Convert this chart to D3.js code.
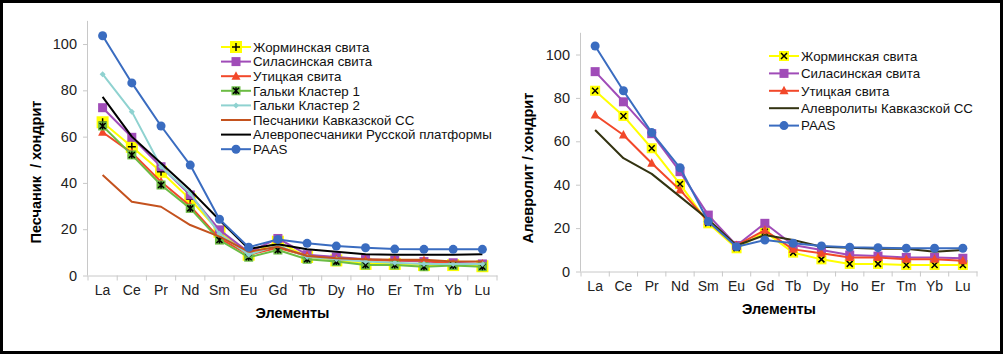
<!DOCTYPE html>
<html>
<head>
<meta charset="utf-8">
<script src="https://cdn.jsdelivr.net/npm/d3@7"></script>
<style>
  body { margin: 0; background: #fff; }
  svg { font-family: "Liberation Sans", Arial, sans-serif; }
</style>
</head>
<body>
<div class="canvas"></div>
<script>
// REE elements on the x axis
const elements = ['La', 'Ce', 'Pr', 'Nd', 'Sm', 'Eu', 'Gd', 'Tb', 'Dy', 'Ho', 'Er', 'Tm', 'Yb', 'Lu']
const yTicks = [0, 20, 40, 60, 80, 100]

// left chart: sandstones / chondrite
const zhorL = [66.2, 55.6, 44.8, 32.9, 18.9, 9.0, 14.6, 8.0, 6.5, 5.0, 5.0, 4.5, 4.5, 4.0]
const silL = [72.5, 59.7, 47.0, 34.8, 19.7, 10.0, 16.0, 9.0, 8.0, 7.0, 6.5, 6.0, 5.5, 5.0]
const utL = [61.9, 53.0, 40.5, 30.0, 16.0, 9.0, 12.0, 8.5, 7.0, 6.5, 6.5, 6.5, 5.0, 5.0]
const gal1L = [64.6, 52.1, 39.1, 29.0, 15.3, 7.9, 11.0, 7.0, 6.0, 4.5, 4.5, 3.8, 4.3, 3.8]
const gal2L = [87.0, 70.8, 47.0, 35.5, 18.0, 9.0, 13.0, 8.0, 7.0, 6.0, 5.5, 5.0, 5.0, 5.0]
const peschL = [43.4, 31.9, 29.7, 21.8, 16.8, 10.3, 12.4, 8.4, 7.5, 7.0, 6.8, 6.8, 6.0, 6.0]
const alevrRpL = [77.2, 60.0, 48.5, 36.9, 24.0, 11.5, 13.5, 11.3, 10.3, 9.2, 9.0, 9.0, 9.0, 9.2]
const paasL = [103.6, 83.2, 64.6, 47.7, 24.3, 12.2, 15.6, 13.9, 12.7, 12.0, 11.4, 11.3, 11.3, 11.3]

// right chart: siltstones / chondrite
const zhorR = [83.3, 71.7, 56.8, 40.3, 22.2, 10.7, 18.3, 8.7, 5.6, 3.5, 3.5, 3.0, 3.0, 3.0]
const silR = [92.1, 78.2, 63.5, 46.0, 26.0, 12.0, 22.2, 12.2, 9.9, 7.6, 7.1, 6.5, 6.5, 6.1]
const utR = [72.1, 62.9, 49.9, 37.6, 23.0, 12.0, 19.0, 10.2, 8.4, 6.5, 6.5, 5.6, 5.6, 5.0]
const alevrKavR = [65.2, 52.2, 45.0, 34.5, 24.0, 12.0, 16.8, 14.5, 11.4, 11.0, 10.5, 10.5, 9.1, 9.9]
const paasR = [103.9, 83.3, 64.0, 47.8, 23.0, 11.4, 14.5, 13.0, 11.8, 11.2, 11.0, 10.7, 10.7, 10.7]

const seriesL = [
  { name: 'Жорминская свита', values: zhorL, color: '#ffff00', marker: 'plus' },
  { name: 'Силасинская свита', values: silL, color: '#a04cb8', marker: 'square' },
  { name: 'Утицкая свита', values: utL, color: '#f2482a', marker: 'triangle' },
  { name: 'Гальки Кластер 1', values: gal1L, color: '#6cbc44', marker: 'star' },
  { name: 'Гальки Кластер 2', values: gal2L, color: '#8fd2d0', marker: 'diamond' },
  { name: 'Песчаники Кавказской СС', values: peschL, color: '#c4521e', marker: 'none' },
  { name: 'Алевропесчаники Русской платформы', values: alevrRpL, color: '#000000', marker: 'none' },
  { name: 'PAAS', values: paasL, color: '#3a6cc0', marker: 'circle' }
]

const seriesR = [
  { name: 'Жорминская свита', values: zhorR, color: '#ffff00', marker: 'cross' },
  { name: 'Силасинская свита', values: silR, color: '#a04cb8', marker: 'square' },
  { name: 'Утицкая свита', values: utR, color: '#f2482a', marker: 'triangle' },
  { name: 'Алевролиты Кавказской СС', values: alevrKavR, color: '#333311', marker: 'none' },
  { name: 'PAAS', values: paasR, color: '#3a6cc0', marker: 'circle' }
]

const svg = d3.select('.canvas')
  .append('svg')
  .attr('width', 1007)
  .attr('height', 356)

// outer frame
svg.append('rect')
  .attr('x', 1.5).attr('y', 1.5)
  .attr('width', 1000).attr('height', 351)
  .attr('fill', 'none')
  .attr('stroke', '#000')
  .attr('stroke-width', 3)

// draw one marker at (0,0) of the given group
function drawMarker(g, type, color) {
  if (type === 'square') {
    g.append('rect').attr('x', -4.5).attr('y', -4.5).attr('width', 9).attr('height', 9).attr('fill', color)
  } else if (type === 'triangle') {
    g.append('path').attr('d', 'M0,-5L4.5,3.5L-4.5,3.5Z').attr('fill', color)
  } else if (type === 'circle') {
    g.append('circle').attr('r', 4.5).attr('fill', color)
  } else if (type === 'diamond') {
    g.append('path').attr('d', 'M0,-3L3,0L0,3L-3,0Z').attr('fill', color)
  } else if (type === 'plus' || type === 'cross' || type === 'star') {
    const h = type === 'plus' ? 6 : (type === 'cross' ? 5 : 4.5)
    g.append('rect').attr('x', -h).attr('y', -h).attr('width', 2 * h).attr('height', 2 * h).attr('fill', color)
    let d = ''
    if (type === 'plus') d = 'M-4,0H4M0,-4V4'
    if (type === 'cross') d = 'M-3,-3L3,3M3,-3L-3,3'
    if (type === 'star') d = 'M-3,-3L3,3M3,-3L-3,3M0,-3.5V3.5'
    g.append('path').attr('d', d).attr('stroke', '#000').attr('stroke-width', 1.5).attr('fill', 'none')
  }
}

function drawChart(cfg) {
  const x = d3.scaleBand().domain(elements).range([cfg.x0, cfg.x1])
  const y = d3.scaleLinear().domain([0, 110]).range([cfg.y0, cfg.yTop])
  const g = svg.append('g')

  // y axis
  const yAxis = g.append('g')
    .attr('transform', `translate(${cfg.x0}, 0)`)
    .call(d3.axisLeft(y).tickValues(yTicks).tickSize(5).tickPadding(6))
  yAxis.select('.domain').attr('stroke', '#c8c8c8').attr('d', `M-0.5,${cfg.y0}V${cfg.yTop}`)
  yAxis.selectAll('.tick line').attr('stroke', '#c8c8c8')
  yAxis.selectAll('text').attr('font-size', 14.5).attr('fill', '#222').style('font-family', 'Liberation Sans, Arial')

  // x axis with ticks between categories
  const xAxis = g.append('g')
    .attr('transform', `translate(0, ${cfg.y0})`)
    .call(d3.axisBottom(x).tickSize(0).tickPadding(10))
  xAxis.select('.domain').attr('stroke', '#c8c8c8')
  xAxis.selectAll('text').attr('font-size', 14).attr('fill', '#222').style('font-family', 'Liberation Sans, Arial')
  g.selectAll('.xsep')
    .data(elements.concat(['end']))
    .enter()
    .append('line')
    .attr('x1', (d, i) => cfg.x0 + i * x.bandwidth())
    .attr('x2', (d, i) => cfg.x0 + i * x.bandwidth())
    .attr('y1', cfg.y0)
    .attr('y2', cfg.y0 + 5)
    .attr('stroke', '#c8c8c8')

  // titles
  g.append('text')
    .attr('x', (cfg.x0 + cfg.x1) / 2)
    .attr('y', cfg.y0 + 42)
    .attr('text-anchor', 'middle')
    .attr('font-size', 14.5)
    .attr('font-weight', 'bold')
    .text('Элементы')
  g.append('text')
    .attr('transform', `translate(${cfg.yTitleX}, ${cfg.yTitleY}) rotate(-90)`)
    .attr('text-anchor', 'middle')
    .attr('font-size', 14.5)
    .attr('font-weight', 'bold')
    .attr('xml:space', 'preserve')
    .text(cfg.yTitle)

  const line = d3.line()
    .x((d, i) => x(elements[i]) + x.bandwidth() / 2)
    .y(d => y(d))

  // each series in order, later ones on top
  cfg.series.forEach(s => {
    g.append('path')
      .datum(s.values)
      .attr('d', line)
      .attr('fill', 'none')
      .attr('stroke', s.color)
      .attr('stroke-width', 2)
      .attr('stroke-linejoin', 'round')
    if (s.marker === 'none') return
    g.selectAll(null)
      .data(s.values)
      .enter()
      .append('g')
      .attr('transform', (d, i) => `translate(${x(elements[i]) + x.bandwidth() / 2}, ${y(d)})`)
      .each(function () { drawMarker(d3.select(this), s.marker, s.color) })
  })

  // legend
  const leg = g.append('g')
  cfg.series.forEach((s, i) => {
    const ly = cfg.legY + i * cfg.legStep
    const lg = leg.append('g').attr('transform', `translate(${cfg.legX}, ${ly})`)
    lg.append('line').attr('x1', 0).attr('x2', 30).attr('y1', 0).attr('y2', 0)
      .attr('stroke', s.color).attr('stroke-width', 2)
    const mg = lg.append('g').attr('transform', 'translate(15, 0)')
    if (s.marker !== 'none') drawMarker(mg, s.marker, s.color)
    lg.append('text').attr('x', 32).attr('y', 4.8).attr('font-size', 13.3).attr('fill', '#111').text(s.name)
  })
}

drawChart({
  x0: 88, x1: 497, y0: 275.5, yTop: 20.9,
  series: seriesL,
  yTitle: 'Песчаник  / хондрит', yTitleX: 41, yTitleY: 172,
  legX: 221, legY: 47, legStep: 14.6
})

drawChart({
  x0: 581, x1: 977, y0: 271.5, yTop: 32.8,
  series: seriesR,
  yTitle: 'Алевролит / хондрит', yTitleX: 533, yTitleY: 168,
  legX: 769, legY: 56, legStep: 17.4
})
</script>
</body>
</html>
